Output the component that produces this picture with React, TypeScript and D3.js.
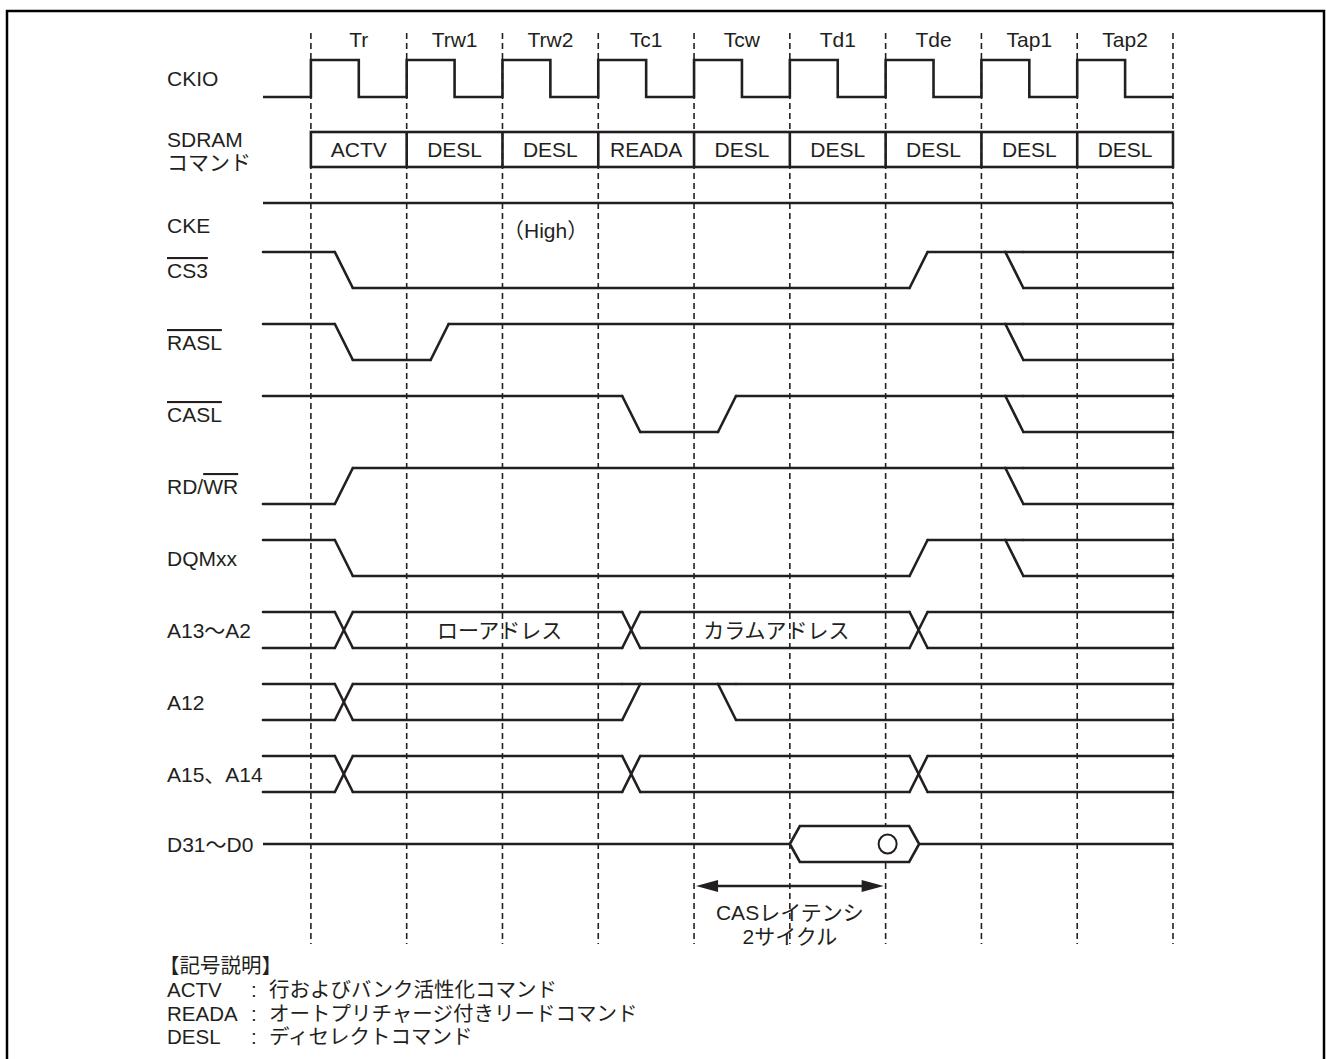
import React from 'react';
import * as d3 from 'd3';

// ---------- data ----------
const cycleNames = ['Tr', 'Trw1', 'Trw2', 'Tc1', 'Tcw', 'Td1', 'Tde', 'Tap1', 'Tap2'];
const commandNames = ['ACTV', 'DESL', 'DESL', 'READA', 'DESL', 'DESL', 'DESL', 'DESL', 'DESL'];
// CKIO level per half cycle, starting half a cycle before Tr
const clockLevels = [0, 1, 0, 1, 0, 1, 0, 1, 0, 1, 0, 1, 0, 1, 0, 1, 0, 1, 0];

type Ev = { cycle: number; to: string; cross?: boolean };
const cs3Events: Ev[] = [{ cycle: 0, to: 'L' }, { cycle: 6, to: 'H' }, { cycle: 7, to: 'HL' }];
const raslEvents: Ev[] = [{ cycle: 0, to: 'L' }, { cycle: 1, to: 'H' }, { cycle: 7, to: 'HL' }];
const caslEvents: Ev[] = [{ cycle: 3, to: 'L' }, { cycle: 4, to: 'H' }, { cycle: 7, to: 'HL' }];
const rdwrEvents: Ev[] = [{ cycle: 0, to: 'H' }, { cycle: 7, to: 'HL' }];
const dqmEvents: Ev[] = [{ cycle: 0, to: 'L' }, { cycle: 6, to: 'H' }, { cycle: 7, to: 'HL' }];
const addrEvents: Ev[] = [
  { cycle: 0, to: 'HL', cross: true },
  { cycle: 3, to: 'HL', cross: true },
  { cycle: 6, to: 'HL', cross: true },
];
const a12Events: Ev[] = [{ cycle: 0, to: 'HL', cross: true }, { cycle: 3, to: 'H' }, { cycle: 4, to: 'HL' }];
const bankEvents: Ev[] = [
  { cycle: 0, to: 'HL', cross: true },
  { cycle: 3, to: 'HL', cross: true },
  { cycle: 6, to: 'HL', cross: true },
];
const addrLabels = [
  { at: 1.97, text: 'ローアドレス' },
  { at: 4.86, text: 'カラムアドレス' },
];
const dataValid = [5, 6.35];
const dataMarkAt = 6;
const casLatency = [4, 6];
const casLatencyText = ['CASレイテンシ', '2サイクル'];
const legendTitle = '【記号説明】';
const legendKeys = ['ACTV', 'READA', 'DESL'];
const legendDescs = ['行およびバンク活性化コマンド', 'オートプリチャージ付きリードコマンド', 'ディセレクトコマンド'];

type Part = { t: string; over?: boolean };
const rows: { label: Part[]; init: string; events: Ev[] }[] = [
  { label: [{ t: 'CS3', over: true }], init: 'H', events: cs3Events },
  { label: [{ t: 'RASL', over: true }], init: 'H', events: raslEvents },
  { label: [{ t: 'CASL', over: true }], init: 'H', events: caslEvents },
  { label: [{ t: 'RD/' }, { t: 'WR', over: true }], init: 'L', events: rdwrEvents },
  { label: [{ t: 'DQMxx' }], init: 'H', events: dqmEvents },
  { label: [{ t: 'A13～A2' }], init: 'HL', events: addrEvents },
  { label: [{ t: 'A12' }], init: 'HL', events: a12Events },
  { label: [{ t: 'A15、A14' }], init: 'HL', events: bankEvents },
];

// ---------- layout ----------
const W = 1326;
const H = 1059;
const T0 = -0.5;
const T1 = 9;
const x = d3.scaleLinear().domain([T0, T1]).range([263, 1173]);
const EDGE_START = 0.25;
const EDGE_DUR = 18 / (x(1) - x(0));
const LABEL_X = 167;
const INK = '#231f20';
const SW = 2.6;
const FONT = '"Liberation Sans", Arial, "Noto Sans CJK JP", sans-serif';
const FS = 21;
const LFS = 20.5;

const clkHigh = 60;
const clkLow = 97;
const cmdTop = 132;
const cmdBot = 167;
const ckeY = 203;
const rowTop0 = 252;
const rowStep = 72;
const rowH = 36;
const dataMid = 252 + rowStep * 8 + 18 - 2;
const arrowY = 886;

const line = d3.line<[number, number]>();

function rowSegments(init: string, events: Ev[], yH: number, yL: number): [number, number][][] {
  const lv = (l: string) => (l === 'H' ? yH : yL);
  const out: [number, number][][] = [];
  let state = init;
  let segStart = T0;
  for (const e of events) {
    const a = e.cycle + EDGE_START;
    const b = a + EDGE_DUR;
    for (const l of state) out.push([[x(segStart), lv(l)], [x(a), lv(l)]]);
    const next = e.to;
    if (e.cross) {
      out.push([[x(a), yH], [x(b), yL]]);
      out.push([[x(a), yL], [x(b), yH]]);
    } else {
      const covered = new Set<string>();
      for (const l of state) {
        if (next.includes(l)) {
          out.push([[x(a), lv(l)], [x(b), lv(l)]]);
          covered.add(l);
        } else {
          const o = l === 'H' ? 'L' : 'H';
          out.push([[x(a), lv(l)], [x(b), lv(o)]]);
          covered.add(o);
        }
      }
      for (const l of next) {
        if (!covered.has(l)) out.push([[x(a), lv(state[0])], [x(b), lv(l)]]);
      }
    }
    state = next;
    segStart = b;
  }
  for (const l of state) out.push([[x(segStart), lv(l)], [x(T1), lv(l)]]);
  return out;
}

function Label({ parts, y }: { parts: Part[]; y: number }) {
  return (
    <text x={LABEL_X} y={y} fontSize={FS} fill={INK}>
      {parts.map((p, i) => (
        <tspan key={i} style={p.over ? { textDecoration: 'overline' } : undefined}>
          {p.t}
        </tspan>
      ))}
    </text>
  );
}

export default function App() {
  const clkPts: [number, number][] = [];
  clockLevels.forEach((lvl, i) => {
    const t0 = T0 + i * 0.5;
    const t1 = t0 + 0.5;
    const y = lvl ? clkHigh : clkLow;
    clkPts.push([x(t0), y]);
    clkPts.push([x(t1), y]);
  });

  const boundaries = d3.range(0, cycleNames.length + 1);

  const dv0 = x(dataValid[0]);
  const dv1 = x(dataValid[1]);
  const bevel = 10;
  const dTop = dataMid - 18;
  const dBot = dataMid + 18;
  const hex: [number, number][] = [
    [dv0, dataMid],
    [dv0 + bevel, dTop],
    [dv1 - bevel, dTop],
    [dv1, dataMid],
    [dv1 - bevel, dBot],
    [dv0 + bevel, dBot],
  ];

  const ax0 = x(casLatency[0]) + 2;
  const ax1 = x(casLatency[1]) - 2;
  const ah = 22;
  const aw = 6;

  return (
    <svg
      width={W}
      height={H}
      style={{ position: 'absolute', left: 0, top: 0, background: '#fff' }}
      fontFamily={FONT}
    >
      <rect x={7} y={11} width={1317} height={1080} fill="none" stroke="#000" strokeWidth={2.5} />

      {boundaries.map((b) => (
        <line
          key={'d' + b}
          x1={x(b)}
          x2={x(b)}
          y1={33}
          y2={944}
          stroke="#222"
          strokeWidth={1.6}
          strokeDasharray="6 4"
        />
      ))}

      {cycleNames.map((n, i) => (
        <text key={n} x={x(i + 0.5)} y={47} fontSize={FS} textAnchor="middle" fill={INK}>
          {n}
        </text>
      ))}

      <Label parts={[{ t: 'CKIO' }]} y={86} />
      <path d={line(clkPts) || ''} fill="none" stroke={INK} strokeWidth={SW} strokeLinejoin="miter" />

      <text x={LABEL_X} y={147} fontSize={FS} fill={INK}>SDRAM</text>
      <text x={LABEL_X} y={170} fontSize={FS} fill={INK}>コマンド</text>
      <rect
        x={x(0)}
        y={cmdTop}
        width={x(cycleNames.length) - x(0)}
        height={cmdBot - cmdTop}
        fill="none"
        stroke={INK}
        strokeWidth={SW}
      />
      {boundaries.slice(1, -1).map((b) => (
        <line key={'c' + b} x1={x(b)} x2={x(b)} y1={cmdTop} y2={cmdBot} stroke={INK} strokeWidth={SW} />
      ))}
      {commandNames.map((c, i) => (
        <text key={i} x={x(i + 0.5)} y={157} fontSize={FS} textAnchor="middle" fill={INK}>
          {c}
        </text>
      ))}

      <Label parts={[{ t: 'CKE' }]} y={233} />
      <line x1={x(T0)} x2={x(T1)} y1={ckeY} y2={ckeY} stroke={INK} strokeWidth={SW} />
      <text x={x(2.45)} y={238} fontSize={FS} textAnchor="middle" fill={INK}>（High）</text>

      {rows.map((r, i) => {
        const yH = rowTop0 + i * rowStep;
        const yL = yH + rowH;
        const segs = rowSegments(r.init, r.events, yH, yL);
        return (
          <g key={i}>
            <Label parts={r.label} y={yH + 26} />
            {segs.map((s, j) => (
              <path key={j} d={line(s) || ''} stroke={INK} strokeWidth={SW} strokeLinecap="round" fill="none" />
            ))}
          </g>
        );
      })}

      {addrLabels.map((a, i) => (
        <text key={i} x={x(a.at)} y={rowTop0 + 5 * rowStep + 26} fontSize={FS} textAnchor="middle" fill={INK}>
          {a.text}
        </text>
      ))}

      <Label parts={[{ t: 'D31～D0' }]} y={dataMid + 8} />
      <line x1={x(T0)} x2={dv0} y1={dataMid} y2={dataMid} stroke={INK} strokeWidth={SW} />
      <line x1={dv1} x2={x(T1)} y1={dataMid} y2={dataMid} stroke={INK} strokeWidth={SW} />
      <path d={(line(hex) || '') + 'Z'} fill="#fff" stroke={INK} strokeWidth={SW} strokeLinejoin="miter" />
      <ellipse cx={x(dataMarkAt) + 2} cy={dataMid} rx={9} ry={9.5} fill="#fff" stroke={INK} strokeWidth={2} />

      <line x1={ax0 + ah - 2} x2={ax1 - ah + 2} y1={arrowY} y2={arrowY} stroke={INK} strokeWidth={SW} />
      <path d={`M${ax0},${arrowY}L${ax0 + ah},${arrowY - aw}L${ax0 + ah},${arrowY + aw}Z`} fill={INK} />
      <path d={`M${ax1},${arrowY}L${ax1 - ah},${arrowY - aw}L${ax1 - ah},${arrowY + aw}Z`} fill={INK} />
      {casLatencyText.map((t, i) => (
        <text key={i} x={x(5)} y={920 + i * 24} fontSize={FS} textAnchor="middle" fill={INK}>
          {t}
        </text>
      ))}

      <text x={159} y={973} fontSize={LFS} fill={INK}>{legendTitle}</text>
      {legendKeys.map((k, i) => (
        <g key={k}>
          <text x={LABEL_X} y={997 + i * 23.5} fontSize={LFS} fill={INK}>{k}</text>
          <text x={251} y={997 + i * 23.5} fontSize={LFS} fill={INK}>:</text>
          <text x={269} y={997 + i * 23.5} fontSize={LFS} fill={INK}>{legendDescs[i]}</text>
        </g>
      ))}
    </svg>
  );
}
